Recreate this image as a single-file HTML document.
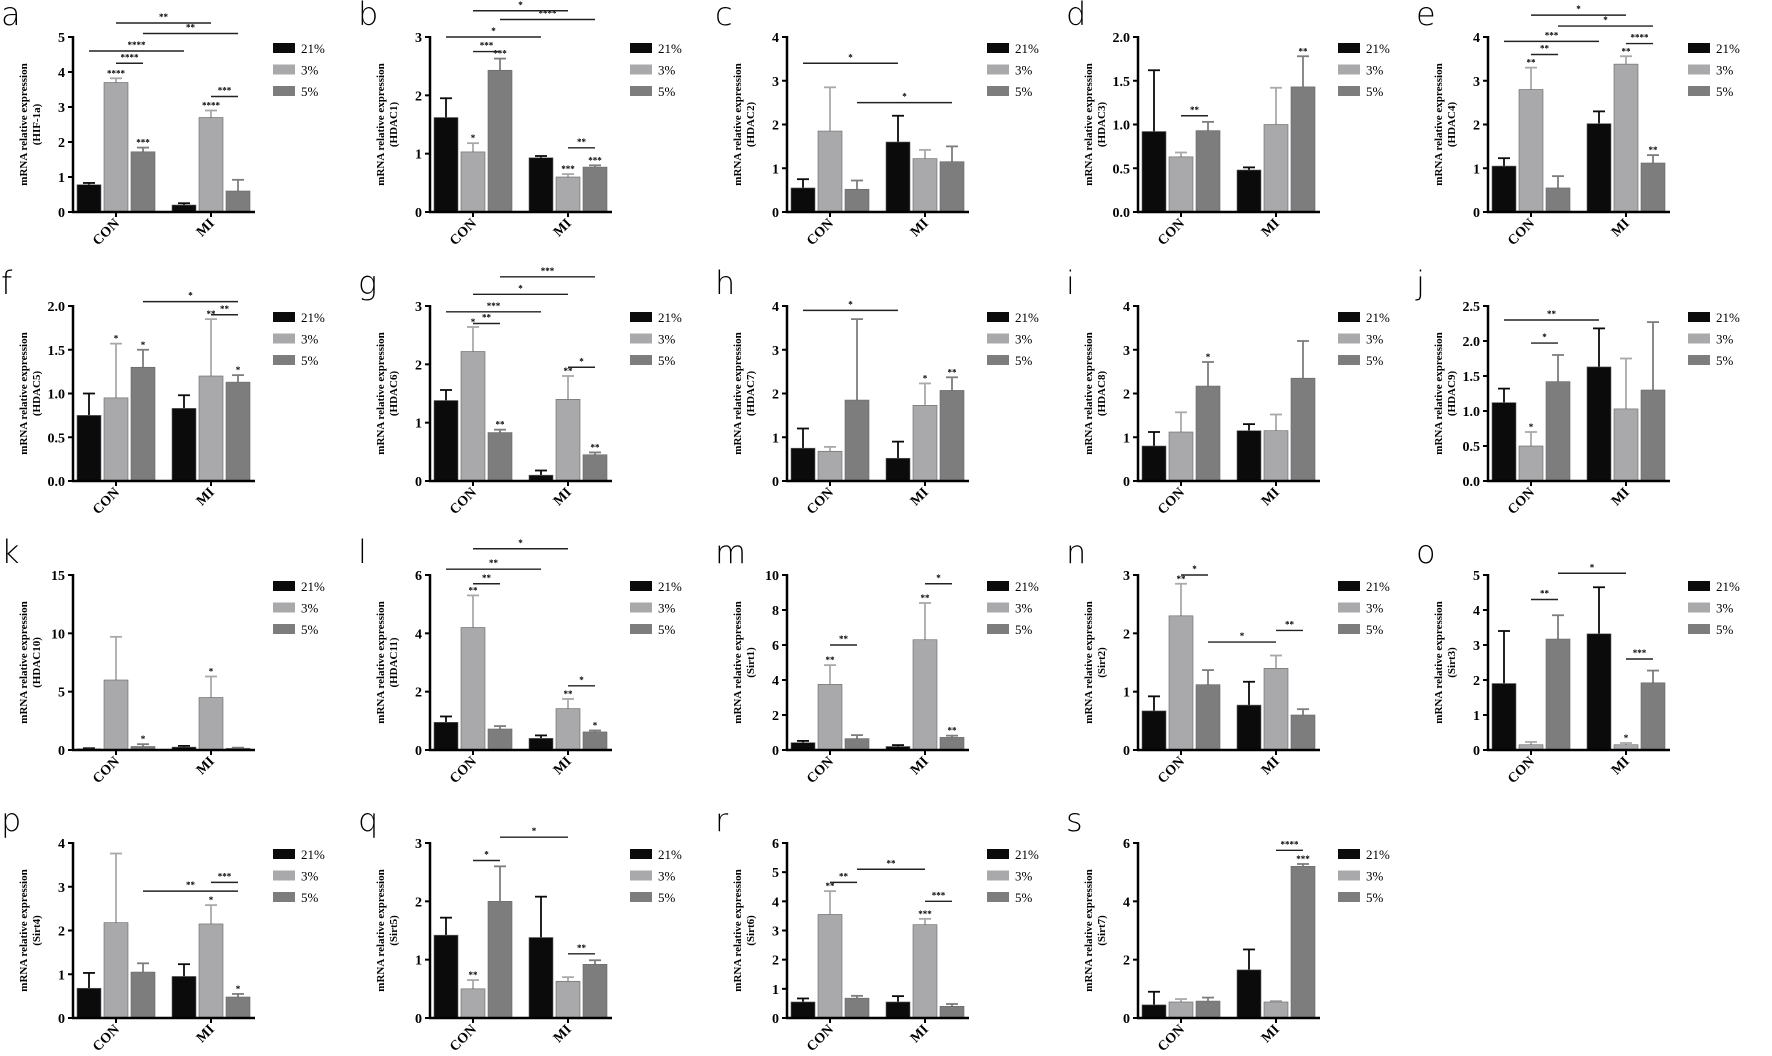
<!DOCTYPE html>
<html><head><meta charset="utf-8">
<style>
html,body{margin:0;padding:0;background:#fff;}
svg{display:block;}
</style></head>
<body>
<svg id="s" width="1772" height="1056" xmlns="http://www.w3.org/2000/svg"></svg>
<script>
const P=[
['a','HIF-1a',5,[0,1,2,3,4,5],null,[0.78,3.7,1.72,0.2,2.7,0.6],[0.05,0.12,0.12,0.05,0.2,0.32],['','****','***','','****',''],[[1,2,4.25,'****'],[0,3,4.6,'****'],[1,4,5.4,'**'],[2,5,5.1,'**'],[4,5,3.3,'***']]],
['b','HDAC1',3,[0,1,2,3],null,[1.62,1.03,2.43,0.93,0.6,0.77],[0.33,0.15,0.2,0.03,0.05,0.03],['','*','***','','***','***'],[[1,2,2.75,'***'],[0,3,3.0,'*'],[2,5,3.3,'****'],[1,4,3.45,'*'],[4,5,1.1,'**']]],
['c','HDAC2',4,[0,1,2,3,4],null,[0.55,1.85,0.52,1.6,1.22,1.15],[0.2,1.0,0.2,0.6,0.2,0.35],['','','','','',''],[[0,3,3.4,'*'],[2,5,2.5,'*']]],
['d','HDAC3',2,[0,0.5,1,1.5,2],1,[0.92,0.63,0.93,0.48,1.0,1.43],[0.7,0.05,0.1,0.03,0.42,0.35],['','','','','','**'],[[1,2,1.1,'**']]],
['e','HDAC4',4,[0,1,2,3,4],null,[1.05,2.8,0.55,2.02,3.38,1.12],[0.18,0.5,0.27,0.28,0.18,0.18],['','**','','','**','**'],[[1,2,3.6,'**'],[0,3,3.9,'***'],[1,4,4.5,'*'],[2,5,4.25,'*'],[4,5,3.85,'****']]],
['f','HDAC5',2,[0,0.5,1,1.5,2],1,[0.75,0.95,1.3,0.83,1.2,1.13],[0.25,0.62,0.2,0.15,0.65,0.08],['','*','*','','**','*'],[[2,5,2.05,'*'],[4,5,1.9,'**']]],
['g','HDAC6',3,[0,1,2,3],null,[1.38,2.22,0.83,0.1,1.4,0.45],[0.18,0.42,0.05,0.08,0.4,0.04],['','*','**','','**','**'],[[0,3,2.9,'***'],[1,2,2.7,'**'],[1,4,3.2,'*'],[2,5,3.5,'***'],[4,5,1.95,'*']]],
['h','HDAC7',4,[0,1,2,3,4],null,[0.75,0.68,1.85,0.52,1.73,2.07],[0.45,0.1,1.85,0.38,0.5,0.3],['','','','','*','**'],[[0,3,3.9,'*']]],
['i','HDAC8',4,[0,1,2,3,4],null,[0.8,1.12,2.17,1.15,1.15,2.35],[0.32,0.45,0.55,0.15,0.37,0.85],['','','*','','',''],[]],
['j','HDAC9',2.5,[0,0.5,1,1.5,2,2.5],1,[1.12,0.5,1.42,1.63,1.03,1.3],[0.2,0.2,0.38,0.55,0.72,0.97],['','*','','','',''],[[1,2,1.97,'*'],[0,3,2.3,'**']]],
['k','HDAC10',15,[0,5,10,15],null,[0.1,6.0,0.3,0.25,4.5,0.15],[0.05,3.7,0.2,0.1,1.8,0.05],['','','*','','*',''],[]],
['l','HDAC11',6,[0,2,4,6],null,[0.95,4.2,0.72,0.4,1.42,0.62],[0.2,1.1,0.1,0.1,0.33,0.05],['','**','','','**','*'],[[1,2,5.7,'**'],[0,3,6.2,'**'],[1,4,6.9,'*'],[4,5,2.2,'*']]],
['m','Sirt1',10,[0,2,4,6,8,10],null,[0.42,3.75,0.65,0.2,6.3,0.72],[0.1,1.1,0.2,0.08,2.1,0.1],['','**','','','**','**'],[[1,2,6.0,'**'],[4,5,9.5,'*']]],
['n','Sirt2',3,[0,1,2,3],null,[0.67,2.3,1.12,0.77,1.4,0.6],[0.25,0.55,0.25,0.4,0.22,0.1],['','**','','','',''],[[1,2,3.0,'*'],[2,4,1.85,'*'],[4,5,2.05,'**']]],
['o','Sirt3',5,[0,1,2,3,4,5],null,[1.9,0.15,3.17,3.32,0.15,1.92],[1.5,0.08,0.68,1.33,0.05,0.35],['','','','','*',''],[[1,2,4.3,'**'],[2,4,5.05,'*'],[4,5,2.6,'***']]],
['p','Sirt4',4,[0,1,2,3,4],null,[0.68,2.18,1.05,0.95,2.15,0.48],[0.35,1.58,0.2,0.28,0.43,0.07],['','','','','*','*'],[[2,5,2.9,'**'],[4,5,3.1,'***']]],
['q','Sirt5',3,[0,1,2,3],null,[1.42,0.5,2.0,1.38,0.63,0.92],[0.3,0.15,0.6,0.7,0.07,0.07],['','**','','','',''],[[1,2,2.7,'*'],[2,4,3.1,'*'],[4,5,1.1,'**']]],
['r','Sirt6',6,[0,1,2,3,4,5,6],null,[0.55,3.55,0.68,0.55,3.2,0.4],[0.12,0.8,0.08,0.2,0.2,0.08],['','**','','','***',''],[[1,2,4.65,'**'],[2,4,5.1,'**'],[4,5,4.0,'***']]],
['s','Sirt7',6,[0,2,4,6],null,[0.45,0.55,0.58,1.65,0.55,5.2],[0.45,0.1,0.12,0.7,0.03,0.08],['','','','','','***'],[[4,5,5.75,'****']]]
];
const CX=[73,430,787,1138,1488], RY=[37,306,575,843];
const COL=['#0b0b0b','#a9a9ab','#7d7d7d'];
const OFF=[4,31,58,99,126,153], BW=24, AL=182, H=175;
let o='';
const F='font-family="Liberation Serif, serif" font-weight="bold"';
P.forEach((p,i)=>{
  const x0=CX[i%5], top=RY[Math.floor(i/5)], bot=top+H;
  const [lt,lab,mx,ticks,dec,v,e,st,br]=p;
  const Y=val=>bot-val/mx*H;
  o+=`<text x="${x0-72}" y="${top-12}" font-family="DejaVu Sans, sans-serif" font-size="32" font-weight="300">${lt}</text>`;
  o+=`<text transform="translate(${x0-46},${top+H/2}) rotate(-90)" text-anchor="middle" ${F} font-size="11">mRNA relative expression</text>`;
  o+=`<text transform="translate(${x0-33},${top+H/2}) rotate(-90)" text-anchor="middle" ${F} font-size="11">(${lab})</text>`;
  v.forEach((val,j)=>{
    const bx=x0+OFF[j], y=Y(val), ey=Y(val+e[j]), cx=bx+BW/2;
    o+=`<line x1="${cx}" y1="${y}" x2="${cx}" y2="${ey}" stroke="${COL[j%3]}" stroke-width="1.8"/>`;
    o+=`<line x1="${cx-6}" y1="${ey}" x2="${cx+6}" y2="${ey}" stroke="${COL[j%3]}" stroke-width="1.8"/>`;
    o+=`<rect x="${bx}" y="${y}" width="${BW}" height="${bot-y}" fill="${COL[j%3]}" stroke="#666" stroke-width="0.6"/>`;
    if(st[j]) o+=`<text x="${cx}" y="${ey-2}" text-anchor="middle" ${F} font-size="9">${st[j]}</text>`;
  });
  br.forEach(b=>{
    const a=x0+OFF[b[0]]+BW/2, c=x0+OFF[b[1]]+BW/2, y=Y(b[2]);
    o+=`<line x1="${a}" y1="${y}" x2="${c}" y2="${y}" stroke="#222" stroke-width="1.4"/>`;
    o+=`<text x="${(a+c)/2}" y="${y-3}" text-anchor="middle" ${F} font-size="9">${b[3]}</text>`;
  });
  o+=`<line x1="${x0}" y1="${top-1}" x2="${x0}" y2="${bot+1}" stroke="#000" stroke-width="2.5"/>`;
  o+=`<line x1="${x0-1}" y1="${bot}" x2="${x0+AL}" y2="${bot}" stroke="#000" stroke-width="2.5"/>`;
  ticks.forEach(t=>{
    const y=Y(t);
    o+=`<line x1="${x0-5}" y1="${y}" x2="${x0}" y2="${y}" stroke="#000" stroke-width="2"/>`;
    o+=`<text x="${x0-8}" y="${y+5}" text-anchor="end" ${F} font-size="14">${dec?t.toFixed(1):t}</text>`;
  });
  [[ (OFF[1]+BW/2),'CON'],[(OFF[4]+BW/2),'MI']].forEach(g=>{
    const gx=x0+g[0];
    o+=`<line x1="${gx}" y1="${bot}" x2="${gx}" y2="${bot+5}" stroke="#000" stroke-width="2"/>`;
    o+=`<text transform="translate(${gx+4},${bot+12}) rotate(-45)" text-anchor="end" ${F} font-size="14">${g[1]}</text>`;
  });
  ['21%','3%','5%'].forEach((t,k)=>{
    const ly=top+11+k*21.5;
    o+=`<rect x="${x0+200}" y="${ly-5}" width="22" height="10" fill="${COL[k]}"/>`;
    o+=`<text x="${x0+228}" y="${ly+5}" font-family="Liberation Serif, serif" font-size="13">${t}</text>`;
  });
});
document.getElementById('s').innerHTML=o;
</script>
</body></html>
